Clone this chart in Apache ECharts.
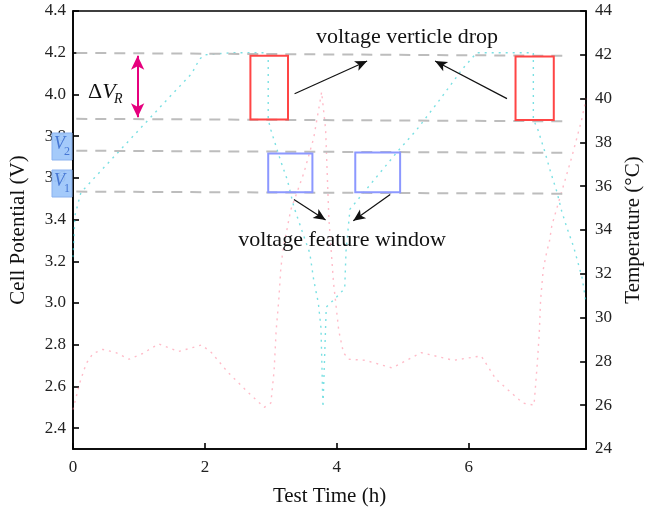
<!DOCTYPE html>
<html>
<head>
<meta charset="utf-8">
<script src="https://cdn.jsdelivr.net/npm/echarts@6/dist/echarts.min.js"></script>
<style>
  html, body { margin: 0; padding: 0; background: #ffffff; }
  #chart { width: 652px; height: 513px; }
</style>
</head>
<body>
<div id="chart"></div>
<script>
// Cell voltage during two charge / discharge cycles
const timeV = [0.00, 0.03, 0.12, 0.50, 1.00, 1.50, 1.80, 1.92, 2.00, 2.40, 2.96, 2.96, 3.00, 3.15, 3.25, 3.35, 3.50, 3.59, 3.65, 3.72, 3.76, 3.79, 3.84, 4.00, 4.12, 4.14, 4.20, 4.93, 5.21, 5.55, 5.90, 6.12, 6.50, 6.98, 6.98, 7.05, 7.15, 7.24, 7.34, 7.41, 7.49, 7.59, 7.66, 7.72, 7.78];
const voltage = [3.22, 3.42, 3.53, 3.66, 3.83, 4.00, 4.10, 4.17, 4.19, 4.20, 4.20, 3.88, 3.83, 3.68, 3.59, 3.46, 3.32, 3.24, 3.11, 3.00, 2.88, 2.50, 2.98, 3.03, 3.07, 3.25, 3.45, 3.73, 3.83, 3.97, 4.12, 4.20, 4.20, 4.20, 3.88, 3.83, 3.73, 3.63, 3.53, 3.44, 3.36, 3.27, 3.19, 3.12, 3.00];

// Cell surface temperature
const timeT = [0.00, 0.10, 0.20, 0.30, 0.45, 0.65, 0.85, 1.05, 1.30, 1.60, 1.95, 2.10, 2.35, 2.65, 2.90, 3.00, 3.05, 3.08, 3.12, 3.15, 3.18, 3.30, 3.50, 3.65, 3.77, 3.83, 3.88, 3.95, 4.03, 4.10, 4.18, 4.43, 4.84, 5.28, 5.77, 6.19, 6.41, 6.82, 6.99, 7.04, 7.07, 7.09, 7.13, 7.19, 7.22, 7.26, 7.56, 7.71, 7.78];
const temperature = [25.8, 27.0, 27.9, 28.35, 28.55, 28.4, 28.1, 28.35, 28.8, 28.45, 28.75, 28.4, 27.5, 26.6, 25.9, 26.1, 27.6, 29.4, 30.8, 32.2, 33.0, 34.9, 36.6, 38.2, 40.3, 38.6, 34.5, 31.6, 29.4, 28.4, 28.1, 28.05, 27.7, 28.4, 28.05, 28.25, 27.2, 26.1, 26.0, 27.9, 29.3, 30.8, 32.2, 33.1, 33.4, 34.2, 37.3, 39.0, 40.0];

// Axis ticks
const timeTicks = [0, 2, 4, 6];
const voltageTicks = [2.4, 2.6, 2.8, 3.0, 3.2, 3.4, 3.6, 3.8, 4.0, 4.2, 4.4];

// Guide levels, windows and arrows (time in h, potential in V)
const levelLines = [
  [[0.05, 4.199], [7.48, 4.185]],
  [[0.05, 3.883], [7.48, 3.871]],
  [[0.05, 3.730], [7.48, 3.720]],
  [[0.05, 3.534], [7.48, 3.524]]
];
const dropBoxes = [
  [[2.69, 4.185], [3.26, 3.880]],
  [[6.71, 4.182], [7.29, 3.877]]
];
const featureBoxes = [
  [[2.96, 3.717], [3.63, 3.531]],
  [[4.28, 3.722], [4.96, 3.531]]
];
const pointerArrows = [
  [[3.36, 4.003], [4.46, 4.160]],
  [[6.58, 3.980], [5.49, 4.160]],
  [[3.35, 3.496], [3.83, 3.398]],
  [[4.81, 3.520], [4.25, 3.394]]
];
const deltaArrow = [[0.98, 4.185], [0.98, 3.890]];

const SERIF = '"Liberation Serif", "Times New Roman", serif';
const zip = (xs, ys) => xs.map((x, i) => [x, ys[i]]);
const segs = (list) => list.map(p => [{ coord: p[0] }, { coord: p[1] }]);

const chart = echarts.init(document.getElementById('chart'), null, { renderer: 'canvas' });

const axisCommon = {
  axisLine: { show: true, lineStyle: { color: '#000', width: 1.6 } },
  axisTick: { show: true, inside: true, length: 6, lineStyle: { color: '#000', width: 1.6 } },
  splitLine: { show: false },
  nameTextStyle: { fontFamily: SERIF, fontSize: 21, color: '#111' }
};

// Small "V" badge with a numeric subscript, drawn over the potential axis
function badge(y, sub) {
  return [
    {
      type: 'rect', z: 30,
      shape: { x: 52, y: y, width: 20, height: 27 },
      style: { fill: 'rgba(160,200,250,0.96)', stroke: '#8AB2F0', lineWidth: 1 }
    },
    {
      type: 'text', x: 54, y: y + 11, z: 31,
      style: { text: 'V', fontFamily: SERIF, fontSize: 18, fontStyle: 'italic', fill: '#4677D4', verticalAlign: 'middle' }
    },
    {
      type: 'text', x: 64, y: y + 19, z: 31,
      style: { text: sub, fontFamily: SERIF, fontSize: 12, fill: '#4677D4', verticalAlign: 'middle' }
    }
  ];
}

const option = {
  animation: false,
  backgroundColor: '#ffffff',
  grid: {
    left: 72, right: 57, top: 11, bottom: 64,
    show: true, borderColor: '#000', borderWidth: 1.6, backgroundColor: 'transparent'
  },
  xAxis: Object.assign({}, axisCommon, {
    type: 'value', min: 0, max: 7.78,
    name: 'Test Time (h)', nameLocation: 'middle', nameGap: 37,
    axisLabel: { customValues: timeTicks, margin: 10, fontFamily: SERIF, fontSize: 17, color: '#222' },
    axisTick: Object.assign({}, axisCommon.axisTick, { customValues: timeTicks })
  }),
  yAxis: [
    Object.assign({}, axisCommon, {
      type: 'value', min: 2.3, max: 4.4, position: 'left',
      name: 'Cell Potential (V)', nameLocation: 'middle', nameGap: 44, nameRotate: 90,
      axisLabel: {
        customValues: voltageTicks, margin: 7, fontFamily: SERIF, fontSize: 17, color: '#222',
        formatter: v => v.toFixed(1)
      },
      axisTick: Object.assign({}, axisCommon.axisTick, { customValues: voltageTicks })
    }),
    Object.assign({}, axisCommon, {
      type: 'value', min: 24, max: 44, interval: 2, position: 'right',
      name: 'Temperature (°C)', nameLocation: 'middle', nameGap: 36, nameRotate: 90,
      axisLabel: { margin: 9, fontFamily: SERIF, fontSize: 17, color: '#222' }
    })
  ],
  series: [
    {
      name: 'Temperature',
      type: 'line', yAxisIndex: 1, showSymbol: false, silent: true, z: 2,
      data: zip(timeT, temperature),
      lineStyle: { color: 'rgba(255,120,145,0.5)', width: 1.4, type: [2, 5] }
    },
    {
      name: 'Voltage',
      type: 'line', yAxisIndex: 0, showSymbol: false, silent: true, z: 3,
      data: zip(timeV, voltage),
      lineStyle: { color: 'rgba(40,205,210,0.62)', width: 1.4, type: [2, 5] },
      markArea: {
        silent: true, z: 6,
        label: { show: false },
        data: segs(dropBoxes).map(d => [
          Object.assign({}, d[0], { itemStyle: { color: 'rgba(0,0,0,0)', borderColor: '#FF4545', borderWidth: 2 } }), d[1]
        ]).concat(segs(featureBoxes).map(d => [
          Object.assign({}, d[0], { itemStyle: { color: 'rgba(0,0,0,0)', borderColor: '#8C98FF', borderWidth: 2 } }), d[1]
        ]))
      },
      markLine: {
        silent: true, z: 5, symbol: ['none', 'none'],
        label: { show: false },
        emphasis: { disabled: true },
        data: segs(levelLines).map(d => [
          Object.assign({}, d[0], { lineStyle: { color: '#BDBDBD', width: 2, type: [11, 8] } }), d[1]
        ]).concat(segs(pointerArrows).map(d => [
          Object.assign({}, d[0], { symbol: 'none', lineStyle: { color: '#111', width: 1.2, type: 'solid' } }),
          Object.assign({}, d[1], { symbol: 'arrow', symbolSize: [8, 12] })
        ])).concat([[
          { coord: deltaArrow[0], symbol: 'arrow', symbolSize: [10, 14], lineStyle: { color: '#E6007E', width: 2, type: 'solid' } },
          { coord: deltaArrow[1], symbol: 'arrow', symbolSize: [10, 14] }
        ]])
      }
    }
  ],
  graphic: [
    {
      type: 'text', x: 407, y: 37, z: 20,
      style: { text: 'voltage verticle drop', fontFamily: SERIF, fontSize: 22, fill: '#111', align: 'center', verticalAlign: 'middle' }
    },
    {
      type: 'text', x: 342, y: 240, z: 20,
      style: { text: 'voltage feature window', fontFamily: SERIF, fontSize: 22, fill: '#111', align: 'center', verticalAlign: 'middle' }
    },
    {
      type: 'text', x: 88, y: 92, z: 20,
      style: {
        text: '{d|Δ}{v|V}', fontFamily: SERIF, verticalAlign: 'middle',
        rich: {
          d: { fontFamily: SERIF, fontSize: 22, fill: '#111' },
          v: { fontFamily: SERIF, fontSize: 22, fontStyle: 'italic', fill: '#111' }
        }
      }
    },
    {
      type: 'text', x: 114, y: 99, z: 20,
      style: { text: 'R', fontFamily: SERIF, fontSize: 14, fontStyle: 'italic', fill: '#111', verticalAlign: 'middle' }
    }
  ].concat(badge(133, '2'), badge(170, '1'))
};

chart.setOption(option);
</script>
</body>
</html>
